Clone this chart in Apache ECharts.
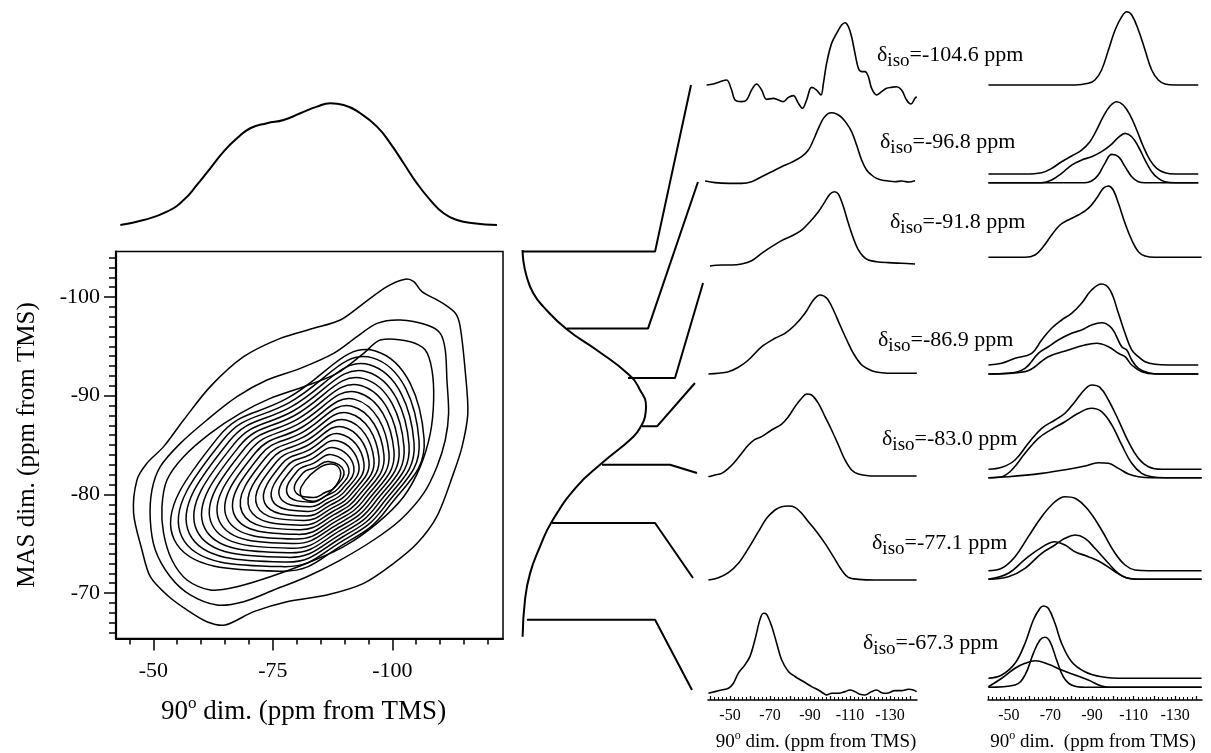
<!DOCTYPE html>
<html><head><meta charset="utf-8">
<script src="https://cdn.jsdelivr.net/npm/echarts@6/dist/echarts.min.js"></script>
<style>html,body{margin:0;padding:0;background:#fff}#c{width:1211px;height:753px}</style>
</head><body><div id="c"></div>
<script>
// ---------------- DATA ----------------
const dIso = [-104.6, -96.8, -91.8, -86.9, -83.0, -77.1, -67.3];

// projection on 90° dim (ppm, rel. intensity)
const projTop = [[-43.1,0],[-47.98,4.1],[-52.86,11],[-56.34,20.5],[-59.13,32.9],[-61.92,46.6],[-64.71,60.3],[-67.5,71.2],[-70.29,79.5],[-73.78,83.6],[-77.26,86.3],[-80.75,91.8],[-84.24,97.3],[-87.03,100],[-89.82,98.6],[-93.3,91.8],[-96.79,80.8],[-99.58,67.1],[-102.37,50.7],[-105.16,34.2],[-107.95,20.5],[-110.74,9.6],[-113.53,4.1],[-117.01,1.4],[-121.89,0]];
// projection on MAS dim (rel. intensity, ppm)
const projMAS = [[0.5,-104.76],[1,-103.75],[3.8,-102.06],[9.1,-100.37],[17.2,-99.02],[36.1,-96.73],[60.2,-94.63],[85.8,-92.17],[95.2,-90.58],[100,-88.89],[99.2,-87.87],[96.5,-87.03],[89.8,-85.85],[64.3,-83.15],[44.1,-80.78],[24,-77.23],[14.5,-74.7],[6.5,-72.0],[2.4,-69.3],[0.5,-65.58]];
// connector lines (MAS-projection frame units)
const connStart = [0.6, 36.3, 85.5, 96.8, 64.5, 24.2, 4.0];
const connElbow = [107.3, 101.6, 123.4, 108.9, 119.4, 107.3, 107.3];
const connEndX = [136.3, 141.9, 146.0, 139.5, 141.1, 137.9, 137.1];
const connEndY = [-121.48, -111.65, -101.42, -91.29, -82.17, -71.53, -60.18];

// contour lines, outermost first (90° dim ppm, MAS dim ppm)
const contour1 = [[-102.7,-101.8],[-104.5,-101.55],[-106.2,-100.54],[-110.0,-99.53],[-113.2,-98.35],[-114.2,-96.99],[-115.3,-92.26],[-115.8,-88.21],[-114.6,-84.84],[-112.8,-82.13],[-109.3,-77.74],[-105.2,-75.04],[-100.3,-73.02],[-94.0,-70.99],[-86.3,-69.81],[-77.96,-69.13],[-71.0,-68.12],[-65.06,-66.77],[-61.2,-67.1],[-57.04,-68.29],[-52.86,-69.81],[-49.37,-71.66],[-47.63,-74.37],[-45.88,-78.08],[-46.58,-81.46],[-48.67,-83.15],[-52.16,-84.84],[-56.34,-87.54],[-61.92,-90.92],[-68.9,-93.95],[-76.57,-95.81],[-83.54,-96.83],[-89.12,-97.67],[-94.0,-99.36],[-98.88,-101.05]];
const contour2 = [[-96.79,-97.33],[-101.67,-97.67],[-107.25,-97.16],[-110.04,-96.32],[-111.08,-94.63],[-111.43,-91.59],[-111.78,-88.21],[-111.08,-85.51],[-109.34,-82.81],[-106.55,-80.11],[-101.67,-77.41],[-96.09,-75.38],[-89.12,-73.35],[-82.15,-71.66],[-75.17,-70.31],[-68.9,-69.13],[-63.32,-68.79],[-57.74,-69.81],[-53.55,-71.66],[-50.42,-74.37],[-49.37,-77.41],[-49.72,-80.45],[-51.46,-82.81],[-55.65,-85.17],[-61.23,-87.54],[-67.5,-89.9],[-73.78,-91.59],[-80.75,-92.77],[-87.72,-94.29],[-92.61,-95.98]];
const contour3 = [[-97.49,-95.64],[-103.76,-95.47],[-106.9,-94.63],[-108.3,-92.6],[-108.65,-89.56],[-107.95,-86.18],[-105.85,-82.81],[-102.37,-79.77],[-96.79,-77.07],[-89.82,-74.7],[-82.15,-73.02],[-74.47,-71.66],[-67.5,-70.65],[-61.92,-70.31],[-57.04,-71.33],[-53.9,-73.35],[-52.16,-76.05],[-51.81,-78.76],[-52.86,-81.46],[-56.34,-83.82],[-61.92,-86.19],[-68.2,-88.21],[-74.47,-89.73],[-81.45,-90.91],[-88.42,-92.27],[-94.0,-94.29]];
// inner contours (estimated), 8 points each going round the centre
const innerContours = [
 [[-106.65,-85.64],[-96.46,-94.53],[-77.98,-89.72],[-63.56,-85.78],[-54.39,-75.40],[-76.90,-72.22],[-90.22,-75.07],[-98.90,-78.52]],
 [[-105.60,-85.44],[-95.85,-93.83],[-78.35,-89.28],[-64.67,-85.56],[-55.97,-75.71],[-77.30,-72.68],[-89.95,-75.39],[-98.23,-78.66]],
 [[-104.55,-85.23],[-95.23,-93.13],[-78.72,-88.84],[-65.78,-85.33],[-57.55,-76.02],[-77.71,-73.15],[-89.68,-75.71],[-97.55,-78.80]],
 [[-103.50,-85.03],[-94.62,-92.43],[-79.08,-88.40],[-66.88,-85.10],[-59.12,-76.33],[-78.12,-73.62],[-89.42,-76.03],[-96.87,-78.94]],
 [[-102.45,-84.82],[-94.01,-91.73],[-79.45,-87.97],[-67.99,-84.87],[-60.70,-76.64],[-78.53,-74.08],[-89.15,-76.35],[-96.19,-79.08]],
 [[-101.40,-84.62],[-93.39,-91.03],[-79.81,-87.53],[-69.09,-84.65],[-62.28,-76.95],[-78.94,-74.55],[-88.88,-76.67],[-95.51,-79.22]],
 [[-100.35,-84.41],[-92.78,-90.33],[-80.18,-87.09],[-70.20,-84.42],[-63.85,-77.25],[-79.35,-75.02],[-88.61,-76.99],[-94.84,-79.36]],
 [[-99.30,-84.21],[-92.17,-89.63],[-80.55,-86.65],[-71.31,-84.19],[-65.43,-77.56],[-79.76,-75.48],[-88.35,-77.31],[-94.16,-79.50]],
 [[-98.25,-84.00],[-91.55,-88.93],[-80.91,-86.21],[-72.41,-83.96],[-67.01,-77.87],[-80.17,-75.95],[-88.08,-77.63],[-93.48,-79.64]],
 [[-97.20,-83.80],[-90.94,-88.23],[-81.28,-85.77],[-73.52,-83.74],[-68.58,-78.18],[-80.58,-76.42],[-87.81,-77.95],[-92.80,-79.78]],
 [[-96.15,-83.59],[-90.33,-87.53],[-81.65,-85.34],[-74.62,-83.51],[-70.16,-78.49],[-80.99,-76.88],[-87.55,-78.27],[-92.12,-79.91]],
 [[-95.11,-83.39],[-89.71,-86.83],[-82.01,-84.90],[-75.73,-83.28],[-71.74,-78.80],[-81.39,-77.35],[-87.28,-78.59],[-91.45,-80.05]],
 [[-94.06,-83.18],[-89.10,-86.13],[-82.38,-84.46],[-76.84,-83.06],[-73.31,-79.11],[-81.80,-77.81],[-87.01,-78.91],[-90.77,-80.19]],
 [[-93.01,-82.97],[-88.49,-85.43],[-82.74,-84.02],[-77.94,-82.83],[-74.89,-79.42],[-82.21,-78.28],[-86.74,-79.23],[-90.09,-80.33]],
 [[-91.96,-82.77],[-87.87,-84.73],[-83.11,-83.58],[-79.05,-82.60],[-76.47,-79.73],[-82.62,-78.75],[-86.48,-79.55],[-89.41,-80.47]],
 [[-90.91,-82.56],[-87.26,-84.03],[-83.48,-83.14],[-80.15,-82.37],[-78.04,-80.03],[-83.03,-79.21],[-86.21,-79.87],[-88.73,-80.61]],
 [[-89.86,-82.36],[-86.65,-83.33],[-83.84,-82.71],[-81.26,-82.15],[-79.62,-80.34],[-83.44,-79.68],[-85.94,-80.19],[-88.06,-80.75]],
 [[-89.12,-81.8],[-88.77,-82.74],[-87.03,-83.08],[-84.24,-82.54],[-81.8,-81.39],[-80.75,-80.11],[-82.49,-79.36],[-85.28,-79.6],[-87.72,-80.61]]
];
const contours = [contour1, contour2, contour3].concat(innerContours);

// slices (90° dim ppm, rel. intensity)
const mid1 = [[-38.3,13.8],[-41.7,15.2],[-45,18.4],[-48.3,20.7],[-50.8,6.9],[-52.5,-6.9],[-55.8,-9.2],[-58.3,-6.9],[-60.8,6.9],[-63.3,15.2],[-65.8,6.9],[-68.3,-6],[-71.7,-4.6],[-74.2,-6.9],[-76.7,-9.2],[-79.2,-3.2],[-81.7,-0.9],[-84.2,-11.5],[-86.2,-18.4],[-88.3,-6.9],[-90.8,10.6],[-93.3,6.9],[-95.5,0],[-96.7,16.1],[-98.3,43.8],[-100.8,71.4],[-103.3,85.3],[-105.8,96.8],[-107.5,100],[-109.2,94.5],[-110.8,80.6],[-112.5,57.6],[-114.2,36.9],[-115.8,32.3],[-117.5,32.3],[-119.2,25.3],[-120.8,9.2],[-123.3,0],[-125.8,4.6],[-128.3,9.2],[-130.8,10.6],[-133.3,11.5],[-135.8,6.9],[-138.3,-6.9],[-140.5,-12.4],[-142.5,-4.6],[-143.3,-2.3]];
const mid2 = [[-37.5,1],[-42.5,-1.4],[-49.2,-2.4],[-55.8,-2.4],[-60.8,0],[-65.8,7.2],[-70.8,14.5],[-75.8,21.7],[-80.8,28],[-85.8,36.2],[-89.2,45.9],[-91.7,60.4],[-94.2,77.3],[-96.7,91.8],[-99.2,99],[-100.8,100],[-103.3,98.1],[-105.8,93.2],[-108.3,84.5],[-110.8,72.5],[-113.3,53.1],[-115.8,31.4],[-118.3,16.9],[-120.8,9.7],[-123.3,4.8],[-125.8,2.4],[-129.2,1],[-132.5,0],[-135.8,1],[-139.2,-0.5],[-142.5,1.4]];
const mid3 = [[-40,-1.4],[-45.8,0],[-50.8,0],[-55.8,1.4],[-60.8,5.9],[-65.8,15.9],[-70.8,25],[-75.8,33.2],[-80.8,39.5],[-85.8,47.7],[-90,59.1],[-94.2,72.7],[-97.5,86.4],[-100,96.8],[-102.2,100],[-104.2,96.8],[-106.7,79.5],[-109.2,56.8],[-111.7,36.4],[-114.2,20.5],[-116.7,11.4],[-119.2,6.8],[-123.3,4.5],[-129.2,3.2],[-135.8,2.3],[-142.5,1.4]];
const mid4 = [[-39.2,0],[-44.2,0.9],[-49.2,2.9],[-54.2,8.5],[-59.2,17.7],[-65.9,34.6],[-72.5,45.2],[-77.5,51.5],[-82.5,62],[-87.5,76.8],[-91.7,93.7],[-95,100],[-98.4,95.8],[-101.7,81],[-105,62],[-108.4,43],[-111.7,26.2],[-115.9,11.4],[-120.9,4.2],[-125.9,1.6],[-132.5,0.9],[-143.4,0.9]];
const mid5 = [[-39.2,0],[-42.5,2],[-45.8,4],[-49.2,10.1],[-52.5,18.1],[-55.8,28.2],[-59.2,38.3],[-62.5,45.2],[-65.8,48.4],[-70.8,56.5],[-75.8,63.7],[-79.2,72.6],[-82.5,84.7],[-85.8,94.8],[-88.3,100],[-90.8,98.8],[-94.2,88.7],[-97.5,72.6],[-100.8,56.5],[-104.2,38.3],[-107.5,20.2],[-110.8,8.1],[-114.2,3.2],[-119.2,1.2],[-125.8,0.8],[-132.5,0.8],[-143.3,0.8]];
const mid6 = [[-39.2,0],[-44.2,3.2],[-49.2,9.9],[-54.2,22.5],[-59.2,42.8],[-64.2,65.3],[-68.3,83.3],[-72.5,94.6],[-75.8,99.1],[-79.2,100],[-82.5,98.2],[-85.8,90.1],[-89.2,78.8],[-93.3,65.3],[-97.5,49.5],[-101.7,31.5],[-105.8,13.5],[-109.2,3.6],[-114.2,0.9],[-122.5,0],[-132.5,0],[-143.3,0]];
const mid7 = [[-39.2,0],[-42.5,2.1],[-45.8,4.2],[-49.2,6.3],[-51.7,12.6],[-54.2,25.2],[-57.5,35.7],[-60,46.2],[-62.5,67.2],[-65,92.4],[-66.7,100],[-68.3,98.7],[-70.8,84],[-73.3,63],[-75.8,42],[-79.2,27.3],[-82.5,21],[-86.7,14.7],[-90.8,8.4],[-94.2,4.2],[-96.7,0],[-98.3,-2.1],[-100.8,0],[-104.2,0],[-107.5,2.1],[-110,4.2],[-112.5,2.1],[-115,-1.3],[-117.5,-2.1],[-120.8,2.1],[-123.3,4.2],[-125.8,0.8],[-128.3,0],[-132.5,3.4],[-135.8,3.4],[-139.2,5],[-141.7,4.2],[-143.3,2.1]];
const midSlices = [mid1, mid2, mid3, mid4, mid5, mid6, mid7];

// fitted slices: sum and components
const fit1 = [[-40.2,0],[-81.8,0],[-88.2,2.3],[-91.4,6.8],[-94.6,20.5],[-97.9,47.7],[-101.1,75],[-104.3,93.2],[-106.7,100],[-109.1,95.5],[-112.3,75],[-115.5,47.7],[-118.7,20.5],[-121.9,6.8],[-125.1,1.4],[-129.9,0],[-141.1,0]];
const fit2 = [[-40.2,10.7],[-57.8,10.7],[-65.8,12.3],[-70.6,17.7],[-75.4,25.9],[-80.2,32.9],[-85,40.3],[-89,50.6],[-92.2,65],[-95.4,81.5],[-98.7,94.7],[-101.9,100],[-105,95.9],[-108.3,83.5],[-111.5,65],[-114.7,44.4],[-117.9,27.9],[-121.1,17.7],[-125.1,12.3],[-129.9,10.7],[-141.1,10.7]];
const fit2a = [[-40.2,0],[-65.8,0],[-70.6,3.3],[-75.4,11.5],[-80.2,21.8],[-85,28],[-89.8,32.1],[-94.6,38.3],[-99.5,47.7],[-102.7,56],[-105.9,60.9],[-109.1,56.8],[-112.3,44.4],[-115.5,28],[-118.7,13.6],[-121.9,5.3],[-125.1,1.2],[-129.9,0],[-141.1,0]];
const fit2b = [[-40.2,0],[-86.6,0],[-89.8,2.1],[-93,9.5],[-96.2,23.9],[-99.5,35],[-102.7,32.1],[-105.9,19.8],[-109.1,7.4],[-112.3,1.2],[-115.5,0],[-141.1,0]];
const fit3 = [[-40.2,0],[-57.8,0],[-62.6,3.3],[-66.6,15],[-70.6,31.3],[-74.6,45.3],[-78.6,52.3],[-83.4,59.3],[-88.2,68.7],[-92.2,82.7],[-95.4,96.7],[-97.9,100],[-100.2,94.4],[-102.7,75.7],[-105.9,47.7],[-109.1,24.3],[-112.3,7.9],[-115.5,1.9],[-120.3,0],[-142.7,0]];
const fit4 = [[-40.2,10],[-46.6,11.9],[-53,17.4],[-61,23],[-65.8,37.8],[-70.6,50.8],[-75.4,60],[-80.2,67.4],[-85,78.6],[-89.8,93.3],[-94.6,100],[-98.7,93.3],[-102.7,67.4],[-105.9,45.2],[-109.1,26.7],[-112.3,19.2],[-115.5,13.7],[-120.3,10.8],[-126.7,10],[-141.1,10]];
const fit4a = [[-40.2,0],[-49.8,0.8],[-57.8,6.3],[-64.2,23],[-69,30.3],[-73.8,37.8],[-80.2,45.2],[-85,48.9],[-89.8,54.4],[-94.6,57],[-99.5,50.8],[-104.3,30.3],[-106.7,26.7],[-109.1,15.6],[-112.3,6.3],[-117.1,1.4],[-123.5,0],[-141.1,0]];
const fit4b = [[-40.2,0],[-57.8,2.6],[-69,19.2],[-78.6,26.7],[-86.6,32.2],[-92.2,34.1],[-97.9,30.3],[-102.7,23],[-105.9,19.2],[-109.1,10],[-113.9,2.6],[-120.3,0],[-141.1,0]];
const fit5 = [[-40.2,9.1],[-46.6,11.2],[-53,19.1],[-59.4,37.1],[-65.8,53.3],[-72.2,62.2],[-77,69.5],[-81.8,82],[-86.6,95.4],[-89.8,100],[-93.8,97.5],[-97.9,83.8],[-102.7,62.2],[-107.5,38.8],[-112.3,20.9],[-117.1,11.9],[-123.5,9.1],[-142.7,9.1]];
const fit5a = [[-40.2,0],[-46.6,1.1],[-51.4,8.3],[-57.8,26.3],[-64.2,42.5],[-70.6,52.2],[-77,60.4],[-83.4,69.5],[-89.8,74.9],[-94.6,71.2],[-99.5,56.9],[-104.3,35.3],[-109.1,15.5],[-113.9,4.7],[-118.7,1.1],[-125.1,0],[-142.7,0]];
const fit5b = [[-40.2,0],[-49.8,1.1],[-65.8,4.7],[-78.6,9.1],[-86.6,12.6],[-93,16.2],[-97.9,15.5],[-102.7,10.1],[-107.5,4],[-112.3,1.1],[-118.7,0],[-142.7,0]];
const fit6 = [[-40.2,10.4],[-46.6,13.3],[-53,27.4],[-59.4,51.6],[-65.8,75.8],[-72.2,93.9],[-77,100],[-81.8,98.1],[-88.2,83.9],[-94.6,59.7],[-101.1,31.5],[-105.9,17.3],[-110.7,11.3],[-117.1,10.4],[-142.7,10.4]];
const fit6a = [[-40.2,0],[-49.8,3.1],[-57.8,13.3],[-65.8,31.5],[-72.2,41.5],[-77,49.6],[-81.8,53.6],[-86.6,49.6],[-91.4,37.5],[-97.9,19.4],[-102.7,7.3],[-107.5,1.2],[-113.9,0],[-142.7,0]];
const fit6b = [[-40.2,0],[-49.8,7.3],[-57.8,24.2],[-65.8,38.7],[-72.2,45.5],[-77,41.5],[-81.8,33.4],[-88.2,27.4],[-94.6,20.1],[-101.1,9.2],[-105.9,2.4],[-110.7,0],[-142.7,0]];
const fit7 = [[-40.2,11.1],[-46.6,15.1],[-53,29.5],[-57.8,54.1],[-61.8,82.8],[-65,97.2],[-66.6,100],[-69,97.2],[-72.2,78.7],[-75.4,54.1],[-80.2,31.5],[-86.6,19.2],[-94.6,13],[-105.9,11.1],[-142.7,11.1]];
const fit7a = [[-40.2,0],[-53,2.8],[-57.8,15.1],[-61.8,41.8],[-65,58.2],[-67.4,61.5],[-69.8,56.1],[-73,33.6],[-76.2,13],[-80.2,2.8],[-86.6,0],[-142.7,0]];
const fit7b = [[-40.2,0.7],[-46.6,11.1],[-53,23.4],[-57.8,29.5],[-62.6,32.7],[-69,28.4],[-75.4,21.2],[-81.8,15.1],[-88.2,9],[-94.6,1.6],[-99.5,0],[-142.7,0]];
const fitSlices = [[fit1],[fit2,fit2a,fit2b],[fit3],[fit4,fit4a,fit4b],[fit5,fit5a,fit5b],[fit6,fit6a,fit6b],[fit7,fit7a,fit7b]];

// ---------------- LAYOUT ----------------
const FF = '"Liberation Serif","Times New Roman",Times,serif';
const CX0 = 153.3, CXS = 4.78;   // px of -50 ppm, px per ppm (90° dim)
const CY0 = 297, CYS = 9.87;     // px of -100 ppm, px per ppm (MAS dim)
const pxX = v => CX0 + (-50 - v) * CXS;
const pxY = v => CY0 + (v + 100) * CYS;
const frameX = [-42.2, -123.16], frameY = [-104.6, -65.4];
const midBase = [95, 181.7, 265, 374, 476.7, 580, 693.3];
const midPeak = [22.7, 112.7, 191.7, 295, 394, 506, 613.3];
const fitBase = [85, 182.7, 257.3, 374, 477.7, 579.3, 687.3];
const fitPeak = [11.7, 101.7, 186, 284, 385, 496.7, 606];
const labelPos = [[877,55],[880,142],[890,222],[878,340],[882,439],[872,543],[863,643]];

const grids = [], xAxis = [], yAxis = [], series = [];
const hidden = {show:false};
function addGrid(rect, xa, ya) {
  const i = grids.length;
  grids.push({left:rect[0], top:rect[1], width:rect[2], height:rect[3], show:false, containLabel:false, outerBoundsMode:'none'});
  const base = {gridIndex:i, type:'value', show:false, splitLine:hidden, axisTick:hidden, axisLabel:hidden, axisLine:hidden, minorTick:hidden, minorSplitLine:hidden};
  xAxis.push(Object.assign({}, base, xa));
  yAxis.push(Object.assign({}, base, ya));
  return i;
}
function addLine(gi, data, opts) {
  series.push(Object.assign({type:'line', xAxisIndex:gi, yAxisIndex:gi, data:data, showSymbol:false, symbol:'none',
    smooth:0.4, lineStyle:{color:'#000', width:1.6}, silent:true, animation:false, clip:false}, opts || {}));
}
// closed contour ring drawn as a smoothed polygon through the axis scales
function addRing(gi, pts, smooth, width) {
  series.push({type:'custom', coordinateSystem:'cartesian2d', xAxisIndex:gi, yAxisIndex:gi, data:[pts[0]],
    silent:true, animation:false, clip:false,
    renderItem:(params, api) => ({type:'polygon', shape:{points:pts.map(p => api.coord(p)), smooth:smooth},
      style:{fill:'none', stroke:'#000', lineWidth:width}})});
}
const tickStyle = w => ({color:'#000', width:w});

// contour frame
const L = pxX(frameX[0]), R = pxX(frameX[1]), T = pxY(frameY[0]), B = pxY(frameY[1]);
const gC = addGrid([L, T, R - L, B - T],
  {show:true, inverse:true, min:frameX[1], max:frameX[0], axisLine:{show:true, onZero:false, lineStyle:tickStyle(2.2)}},
  {show:true, inverse:true, min:frameY[0], max:frameY[1], axisLine:{show:true, onZero:false, lineStyle:tickStyle(2.2)}});
grids[gC].show = true; grids[gC].borderColor = '#000'; grids[gC].borderWidth = 1.5;
contours.forEach((c, i) => addRing(gC, c, i < 3 ? 0.3 : 0.45, 1.5));

// ticks of contour axes
addGrid([pxX(-45), T, 75 * CXS, B - T],
  {show:true, inverse:true, min:-120, max:-45, interval:5, axisTick:{show:true, length:6, lineStyle:tickStyle(1.5)}}, {});
addGrid([pxX(-50), T, 50 * CXS, B - T],
  {show:true, inverse:true, min:-100, max:-50, interval:25, axisTick:{show:true, length:12, lineStyle:tickStyle(1.5)},
   axisLabel:{show:true, margin:22, fontSize:22, fontFamily:FF, color:'#000'}}, {});
addGrid([L, pxY(-104), R - L, 38 * CYS], {},
  {show:true, inverse:true, min:-104, max:-66, interval:1, axisTick:{show:true, length:7, lineStyle:tickStyle(1.5)}});
addGrid([L, pxY(-100), R - L, 30 * CYS], {},
  {show:true, inverse:true, min:-100, max:-70, interval:10, axisTick:{show:true, length:12, lineStyle:tickStyle(1.5)},
   axisLabel:{show:true, margin:16, fontSize:22, fontFamily:FF, color:'#000'}});

// top projection
const topBase = 225, topPk = 103.3, topK = (topBase - topPk) / 100;
const gT = addGrid([L, 95, R - L, 135], {inverse:true, min:frameX[1], max:frameX[0]},
  {min:-(230 - topBase) / topK, max:(topBase - 95) / topK});
addLine(gT, projTop, {smooth:0.5, lineStyle:{color:'#000', width:2}});

// MAS projection + connectors
const gM = addGrid([522, pxY(-124), 186, 65 * CYS], {min:0, max:150}, {inverse:true, min:-124, max:-59});
addLine(gM, projMAS, {smooth:0.5, lineStyle:{color:'#000', width:2}});
dIso.forEach((d, i) => addLine(gM, [[connStart[i], d], [connElbow[i], d], [connEndX[i], connEndY[i]]], {smooth:false, lineStyle:{color:'#000', width:2}}));

// slice panels
function panelGrid(left, pxPerPpm, base, peak) {
  const k = (base - peak) / 100, top = peak - 8, bottom = base + 22;
  return addGrid([left, top, 106 * pxPerPpm, bottom - top], {inverse:true, min:-144, max:-38},
    {min:-(bottom - base) / k, max:(base - top) / k});
}
const MIDX = 710, MIDS = 2.0, FITX = 988, FITS = 2.08;  // px of -40 ppm, px per ppm
midSlices.forEach((s, i) => {
  const g = panelGrid(MIDX - 2 * MIDS, MIDS, midBase[i], midPeak[i]);
  addLine(g, s, {smooth:0.35});
});
fitSlices.forEach((set, i) => {
  const g = panelGrid(FITX - 2 * FITS, FITS, fitBase[i], fitPeak[i]);
  set.forEach(s => addLine(g, s, {smooth:0.4}));
});

// bottom axes of slice columns
function sliceAxis(x0, s, lineLeft, lineWidth) {
  addGrid([lineLeft, 600, lineWidth, 100], {show:true, min:0, max:1, axisLine:{show:true, onZero:false, lineStyle:tickStyle(1.5)}}, {min:0, max:1});
  addGrid([x0, 600, 100 * s, 100],
    {show:true, inverse:true, min:-140, max:-40, interval:10,
     axisTick:{show:true, length:4, inside:true, lineStyle:tickStyle(1.2)},
     minorTick:{show:true, splitNumber:5, length:3, lineStyle:tickStyle(1)},
     axisLabel:{show:true, margin:8, fontSize:16, fontFamily:FF, color:'#000',
       formatter: v => (Math.abs(v) % 20 === 10 ? String(v) : '')}}, {min:0, max:1});
}
sliceAxis(MIDX, MIDS, 708, 209);
sliceAxis(FITX, FITS, 988, 214);

// ---------------- TEXT ----------------
const tx = (size, va) => ({fontSize:size, fontFamily:FF, fill:'#000', color:'#000', lineHeight:32, verticalAlign:va || 'middle'});
const graphic = [];
dIso.forEach((d, i) => graphic.push({type:'text', x:labelPos[i][0], y:labelPos[i][1], silent:true,
  style:{text:'{d|δ}{s|iso}{n|=' + d.toFixed(1) + ' ppm}', rich:{d:tx(22), s:tx(19, 'bottom'), n:tx(22)},
         align:'left', verticalAlign:'middle', fill:'#000'}}));
function degTitle(x, y, size, rest) {
  return {type:'text', x:x, y:y, silent:true,
    style:{text:'{n|90}{o|o}{n|' + rest + '}', align:'center', verticalAlign:'middle', fill:'#000',
      rich:{n:{fontSize:size, fontFamily:FF, fill:'#000', color:'#000', lineHeight:size + 6, verticalAlign:'middle'},
            o:{fontSize:Math.round(size * 0.62), fontFamily:FF, fill:'#000', color:'#000', lineHeight:size + 6, verticalAlign:'top'}}}};
}
graphic.push(degTitle(303.5, 712, 27, ' dim. (ppm from TMS)'));
graphic.push(degTitle(816, 742, 19, ' dim. (ppm from TMS)'));
graphic.push(degTitle(1093, 742, 19, ' dim.  (ppm from TMS)'));
graphic.push({type:'text', x:27, y:445, rotation:Math.PI / 2, silent:true,
  style:{text:'MAS dim. (ppm from TMS)', font:'25px ' + FF, fill:'#000', align:'center', verticalAlign:'middle'}});

const chart = echarts.init(document.getElementById('c'), null, {renderer:'canvas', width:1211, height:753});
chart.setOption({animation:false, backgroundColor:'#fff', grid:grids, xAxis:xAxis, yAxis:yAxis, series:series, graphic:graphic});
</script></body></html>
